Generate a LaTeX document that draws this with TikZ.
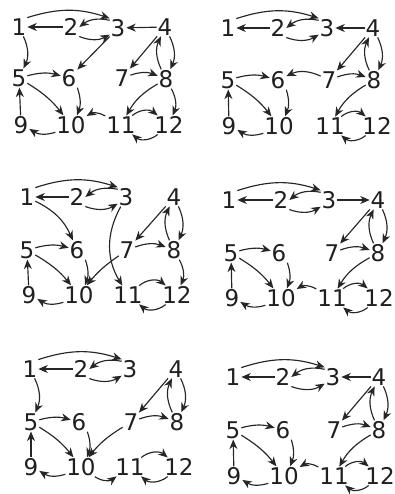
\documentclass[tikz,border=0pt]{standalone}
\usepackage{fontspec}
\setmainfont{DejaVu Sans}
\usetikzlibrary{arrows.meta}
\tikzset{
  vx/.style={font=\fontsize{23}{23}\selectfont, inner sep=0.8pt, text=black!88},
  ed/.style={-{Stealth[length=9.5pt,width=8pt,inset=3pt]}, line width=1.15pt, draw=black!85}
}
\newcommand\placenodes[2]{%
  \foreach \n/\x/\y in {#2} { \node[vx] (#1-\n) at (\x,\y) {\n}; }%
}
\newcommand\commonedges[1]{%
  \draw[ed] (#1-1.north east) to[bend left=18] (#1-3.north west);
  \draw[ed] (#1-2) -- (#1-1);
  \draw[ed] ([yshift=-2pt]#1-3.north west) to[bend right=25] (#1-2.east);
  \draw[ed] (#1-2.south east) to[bend right=25] ([yshift=3pt]#1-3.south west);
  \draw[ed] (#1-4) -- (#1-7);
  \draw[ed] (#1-8) to[bend left=25] (#1-4);
  \draw[ed] (#1-4) to[bend left=25] (#1-8);
  \draw[ed] (#1-5) to[bend left=15] (#1-6);
  \draw[ed] (#1-7) to[bend left=20] (#1-8);
  \draw[ed] (#1-6.south east) to[bend left=20] ([xshift=6pt]#1-10.north);
  \draw[ed] (#1-5) to[bend left=10] (#1-10);
  \draw[ed] (#1-9) -- (#1-5);
  \draw[ed] (#1-10) to[bend left=25] (#1-9);
  \draw[ed] (#1-11) to[bend left=40] (#1-12);
  \draw[ed] (#1-12) to[bend left=40] (#1-11);
}
\begin{document}
\begin{tikzpicture}[x=1pt,y=1pt]
\useasboundingbox (0,0) rectangle (394,-494);
% panel A
\placenodes{a}{1/19/-27,2/71/-27,3/118/-28,4/165/-27,5/19/-78,6/69/-78,7/122/-78,8/166/-79,9/21/-125,10/71/-125,11/121/-125,12/169/-125}
% panel B
\placenodes{b}{1/228/-28,2/278/-28,3/327/-28,4/373/-28,5/228/-80,6/278/-80,7/329/-80,8/374/-80,9/229/-126,10/279/-126,11/330/-126,12/377/-126}
% panel C
\placenodes{c}{1/27/-197,2/77/-197,3/126/-197,4/174/-197,5/27/-250,6/77/-250,7/127/-250,8/174/-250,9/29/-295,10/79/-295,11/128/-295,12/177/-295}
% panel D
\placenodes{d}{1/229/-200,2/281/-200,3/329/-200,4/378/-200,5/231/-253,6/279/-253,7/332/-253,8/378/-253,9/232/-298,10/281/-298,11/332/-298,12/379/-298}
% panel E
\placenodes{e}{1/30/-369,2/81/-369,3/130/-369,4/176/-369,5/31/-422,6/79/-422,7/131/-422,8/177/-422,9/31/-467,10/81/-467,11/130/-467,12/179/-467}
% panel F
\placenodes{f}{1/233/-377,2/283/-377,3/333/-377,4/379/-377,5/233/-430,6/283/-430,7/334/-430,8/379/-430,9/234/-476,10/284/-476,11/334/-476,12/380/-476}

\commonedges{a}
\commonedges{b}
\commonedges{c}
\commonedges{d}
\commonedges{e}
\commonedges{f}

% panel A extras
\draw[ed] (a-4) -- (a-3);
\draw[ed] (a-1) to[bend left=25] (a-5);
\draw[ed] (a-3) -- (a-6);
\draw[ed] (a-11) to[bend right=30] (a-10);
\draw[ed] (a-8) to[bend right=15] (a-11);
\draw[ed] (a-8) to[bend left=25] (a-12);
% panel B extras
\draw[ed] (b-4) -- (b-3);
\draw[ed] (b-7) to[bend right=25] (b-6);
\draw[ed] (b-8) to[bend right=15] (b-11);
% panel C extras
\draw[ed] (c-1) to[bend left=20] (c-6);
\draw[ed] (c-3) to[bend right=30] (c-11);
\draw[ed] (c-7) to[bend right=8] (c-10);
\draw[ed] (c-8) to[bend left=25] (c-12);
% panel D extras
\draw[ed] (d-3) -- (d-4);
\draw[ed] (d-11) to[bend right=30] (d-10);
\draw[ed] (d-8) to[bend right=15] (d-11);
% panel E extras
\draw[ed] (e-1) to[bend left=25] (e-5);
\draw[ed] (e-7) to[bend right=10] (e-10);
\draw[ed] (e-10) to[bend right=35] (e-11);
% panel F extras
\draw[ed] (f-4) -- (f-3);
\draw[ed] (f-11) to[bend right=30] (f-10);
\draw[ed] (f-8) to[bend right=15] (f-11);
\end{tikzpicture}
\end{document}
